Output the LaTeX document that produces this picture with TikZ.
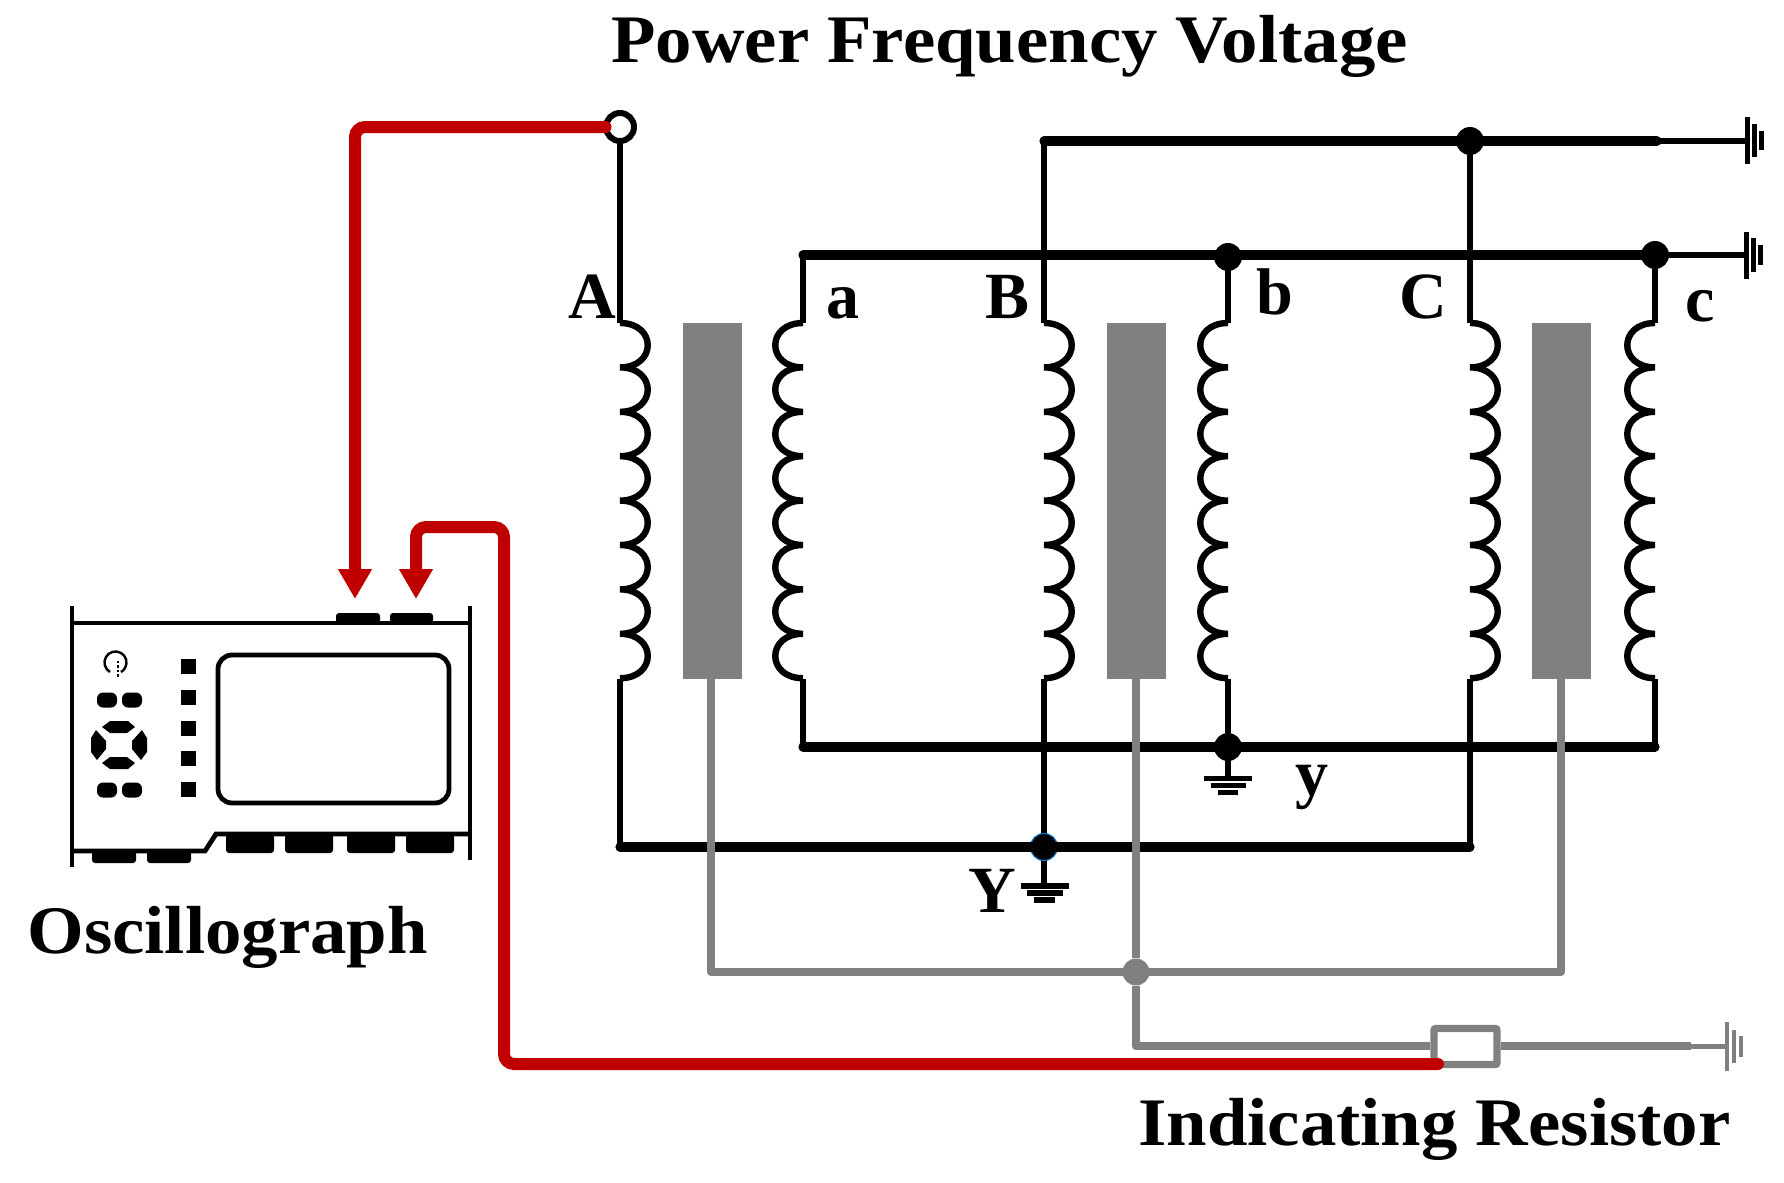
\documentclass[tikz,border=0pt]{standalone}
\usepackage{fontspec}
\setmainfont{Liberation Serif}
\newfontfamily\widefont{Liberation Serif}[FakeStretch=1.07]
\usetikzlibrary{arrows.meta}
\definecolor{leadred}{HTML}{C00000}
\definecolor{dotblue}{HTML}{0070C0}
\tikzset{x=0.5pt,y=-0.5pt,
wire/.style={line width=3.2pt,black},
bus/.style={line width=4.6pt,black,line cap=round},
shield/.style={line width=4.3pt,black!50,line join=round},
signal/.style={line width=6pt,leadred,line cap=round,rounded corners=5pt},
probe/.style={signal,-{Triangle[length=15pt,width=16pt]}},
dot/.style={circle,fill=black,inner sep=0pt,minimum size=14pt},
core/.style={fill=black!50},
plate/.style={line width=2.5pt,black},
scopepart/.style={fill=black,rounded corners=1.5pt},
letter/.style={font=\bfseries\fontsize{33}{33}\selectfont,inner sep=0pt},
caption/.style={font=\widefont\bfseries\fontsize{34}{34}\selectfont,inner sep=0pt},
pics/coil/.style={code={
\draw[wire] (0,0) foreach \i in {0,...,7}{
.. controls +(37,0) and +(37,0) .. ++(0,44.4)};
}}}
\begin{document}
\begin{tikzpicture}
\useasboundingbox (0,0) rectangle (1784,1183);
% core blocks
\foreach \x in {683,1107,1532}
\fill[core] (\x,323) rectangle ++(58.5,356);
% primary side
\coordinate (Acoil) at (620,323);
\coordinate (Bcoil) at (1044,323);
\coordinate (Ccoil) at (1470,323);
\coordinate (Alow) at (620,679);
\coordinate (Blow) at (1044,679);
\coordinate (Clow) at (1470,679);
\coordinate (Yleft) at (620,847);
\coordinate (Yright) at (1470,847);
\coordinate (Xtop) at (1044,141);
\coordinate (Xend) at (1657,141);
\coordinate (Xearth) at (1747,141);
\node[circle,draw=black,fill=white,line width=3pt,inner sep=0pt,minimum size=14pt] (Aterm) at (620,127) {};
\node[dot] (Xdot) at (1470,141) {};
\node[dot,draw=dotblue,line width=0.6pt,minimum size=13.5pt] (Ydot) at (1044,847) {};
% secondary side
\coordinate (acoil) at (803,323);
\coordinate (bcoil) at (1228,323);
\coordinate (ccoil) at (1655,323);
\coordinate (alow) at (803,679);
\coordinate (blow) at (1228,679);
\coordinate (clow) at (1655,679);
\coordinate (atop) at (803,255);
\coordinate (yleft) at (803,747);
\coordinate (yright) at (1655,747);
\coordinate (cearth) at (1746,255);
\node[dot] (bdot) at (1228,257) {};
\node[dot] (cdot) at (1655,255) {};
\node[dot] (ydot) at (1228,747) {};
% coils
\foreach \c in {Acoil,Bcoil,Ccoil}
\pic at (\c) {coil};
\foreach \c in {acoil,bcoil,ccoil}
\pic[xscale=-1] at (\c) {coil};
% black wires
\draw[wire] (Aterm) -- (Acoil);
\draw[wire] (Alow) -- (Yleft);
\draw[wire] (Xtop) -- (Bcoil);
\draw[wire] (Blow) -- (Ydot);
\draw[wire] (Xdot) -- (Ccoil);
\draw[wire] (Clow) -- (Yright);
\draw[wire] (atop) -- (acoil);
\draw[wire] (alow) -- (yleft);
\draw[wire] (bdot) -- (bcoil);
\draw[wire] (blow) -- (ydot);
\draw[wire] (cdot) -- (ccoil);
\draw[wire] (clow) -- (yright);
\draw[bus] (Xtop) -- (Xend);
\draw[wire] (Xend) -- (Xearth);
\draw[bus] (atop) -- (cdot.center);
\draw[wire] (cdot) -- (cearth);
\draw[bus] (yleft) -- (yright);
\draw[bus] (Yleft) -- (Yright);
% earth symbols
\draw[plate] (1747,117) -- (1747,164) (1754,124) -- (1754,157) (1761,131) -- (1761,150);
\draw[plate] (1746,232) -- (1746,279) (1753,238) -- (1753,272) (1760,245) -- (1760,265);
\coordinate (yearth) at (1228,778);
\coordinate (Yearth) at (1044,886);
\draw[wire] (ydot) -- (yearth);
\draw[wire] (Ydot) -- (Yearth);
\draw[plate] (1204,778) -- (1252,778) (1211,785) -- (1246,785) (1218,792) -- (1238,792);
\draw[line width=3.2pt] (1021,886) -- (1069,886) (1027,893) -- (1063,893) (1034,900) -- (1055,900);
% shield wires
\coordinate (Sa) at (711,679);
\coordinate (Sb) at (1136,679);
\coordinate (Sc) at (1561,679);
\coordinate (Sa2) at (711,972);
\coordinate (Sc2) at (1561,972);
\coordinate (Sd) at (1136,1046);
\coordinate (Rwire) at (1691,1046);
\coordinate (Rearth) at (1727,1046);
\node[circle,fill=black!50,inner sep=0pt,minimum size=13.5pt] (Sdot) at (1136,972) {};
\node[draw=black!50,line width=3.7pt,rounded corners=1pt,minimum width=31.5pt,minimum height=18pt,inner sep=0pt] (Rbox) at (1465.5,1046.5) {};
\draw[shield] (Sa) -- (Sa2) -- (Sc2) -- (Sc);
\draw[shield] (Sb) -- (Sdot) -- (Sd) -- (Rbox.west |- Sd);
\draw[shield] (Rbox.east |- Sd) -- (Rwire);
\draw[black!50,line width=2.5pt] (Rwire) -- (Rearth);
\draw[black!50,line width=2pt] (1727,1022) -- (1727,1071) (1734,1030) -- (1734,1063) (1741,1036) -- (1741,1057);
% oscillograph body
\begin{scope}[line width=2.4pt]
\draw (72,606) -- (72,867);
\draw (470,606) -- (470,860);
\draw (72,623) -- (470,623);
\draw (72,851) -- (205,851) -- (216,834) -- (470,834);
\draw[rounded corners=7pt] (218,655) rectangle (449,803);
\end{scope}
\foreach \x/\w in {336/44,390/43}
\fill[scopepart] (\x,613) rectangle ++(\w,10);
\foreach \x in {226,285,347,406}
\fill[scopepart] (\x,834) rectangle ++(48,19);
\foreach \x in {92,147}
\fill[scopepart] (\x,851) rectangle ++(44,12);
\foreach \y in {666,697,728,758,789}
\fill (180.5,\y-7.5) rectangle ++(15,15);
\foreach \x/\y in {97/700,122/700,97/790,122/790}
\fill[rounded corners=3pt] (\x,\y-7.5) rectangle ++(20,15);
\draw[line width=1.2pt] (110,672) arc[start angle=240,end angle=-60,radius=5.5pt];
\draw[line width=1.2pt,densely dotted] (118,661) -- (118,677);
\fill (102,727) -- (110,721) -- (128,721) -- (135,727) -- (127,733) -- (110,733) -- cycle;
\fill (102,763) -- (110,757) -- (127,757) -- (135,763) -- (128,769) -- (110,769) -- cycle;
\fill (96,730) -- (106,741) -- (106,749) -- (97,760) -- (91,752) -- (91,738) -- cycle;
\fill (142,730) -- (132,741) -- (132,749) -- (141,760) -- (147,752) -- (147,738) -- cycle;
% red leads
\coordinate (Pone) at (355,599);
\coordinate (Ptwo) at (416,599);
\coordinate (Rend) at (1438,1064);
\draw[probe] ([xshift=1.25pt]Aterm.west) -- (355,127) -- (Pone);
\draw[probe] (Rend) -- (504,1064) -- (504,527) -- (416,527) -- (Ptwo);
% labels
\node[caption,anchor=base west] (power) at (611,62) {Power Frequency Voltage};
\node[caption,anchor=base west] (osc) at (27,953) {Oscillograph};
\node[caption,anchor=base west] (res) at (1138,1145) {Indicating Resistor};
\node[letter,anchor=base west] (la) at (568,318) {A};
\node[letter,anchor=base west] (lb) at (985,318) {B};
\node[letter,anchor=base west] (lc) at (1399,318) {C};
\node[letter,anchor=base west] (sa) at (826,318) {a};
\node[letter,anchor=base west] (sb) at (1256,314) {b};
\node[letter,anchor=base west] (sc) at (1685,321) {c};
\node[letter,anchor=base west] (ly) at (968,912) {Y};
\node[letter,anchor=base west] (sy) at (1295,795) {y};
\end{tikzpicture}
\end{document}
